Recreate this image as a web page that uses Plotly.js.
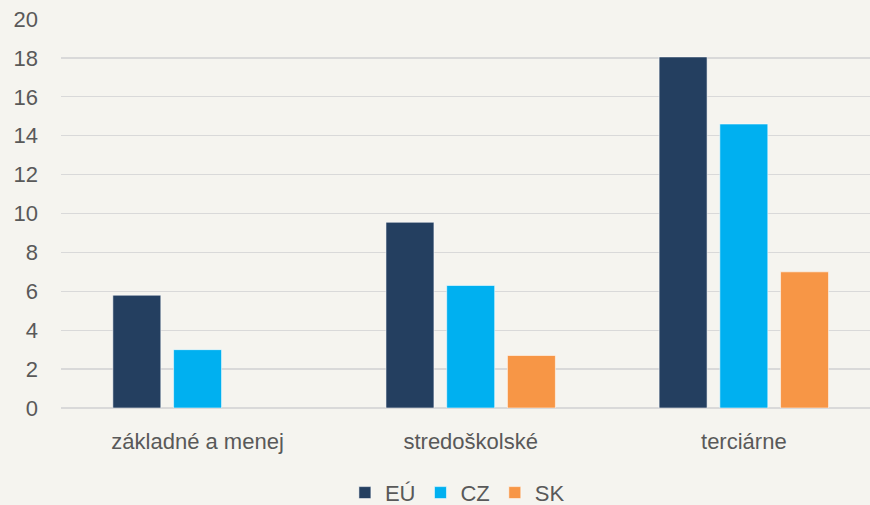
<!DOCTYPE html>
<html>
<head>
<meta charset="utf-8">
<script src="https://cdn.plot.ly/plotly-3.0.1.min.js"></script>
<style>html,body{margin:0;padding:0;background:#F5F4EF;}</style>
</head>
<body>
<div id="chart" style="width:870px;height:505px;"></div>
<script>
const categories = ["základné a menej", "stredoškolské", "terciárne"];
const seriesNames = ["EÚ", "CZ", "SK"];
const valuesEU = [5.8, 9.55, 18.05];
const valuesCZ = [3.0, 6.3, 14.6];
const valuesSK = [null, 2.7, 7.0];
const colors = ["#243F60", "#00B0F0", "#F79646"];
const yTicks = [0, 2, 4, 6, 8, 10, 12, 14, 16, 18, 20];

const FONT = '"Liberation Sans", Arial, sans-serif';
const FS = 22;
const allValues = [valuesEU, valuesCZ, valuesSK];
const traces = allValues.map((vals, i) => ({
  type: 'bar',
  name: seriesNames[i],
  x: categories,
  y: vals,
  marker: {color: colors[i], line: {color: 'rgba(255,255,255,0.55)', width: 1}},
  hoverinfo: 'x+y+name'
}));

const layout = {
  width: 870,
  height: 505,
  paper_bgcolor: '#F5F4EF',
  plot_bgcolor: '#F5F4EF',
  margin: {l: 61, r: 0, t: 19, b: 97, pad: 0, autoexpand: false},
  barmode: 'group',
  bargap: 0.333,
  bargroupgap: 0.21,
  font: {family: FONT, size: FS, color: '#595959'},
  showlegend: true,
  legend: {
    orientation: 'h',
    x: 0.49, xanchor: 'center',
    y: -0.218, yanchor: 'middle',
    font: {family: FONT, size: FS, color: '#595959'},
    itemwidth: 30,
    traceorder: 'normal',
    bgcolor: 'rgba(0,0,0,0)'
  },
  xaxis: {
    type: 'category',
    range: [-0.5, 2.462],
    showgrid: false,
    zeroline: false,
    showline: false,
    ticks: '',
    ticklabelstandoff: 18,
    tickfont: {family: FONT, size: FS, color: '#595959'},
    fixedrange: true
  },
  yaxis: {
    range: [0, 20],
    tickvals: yTicks,
    ticktext: yTicks.map(String),
    showgrid: true,
    gridcolor: '#D9D9D9',
    gridwidth: 1.3,
    zeroline: true,
    zerolinecolor: '#D9D9D9',
    zerolinewidth: 1.3,
    showline: false,
    ticks: '',
    ticklabelstandoff: 22,
    tickfont: {family: FONT, size: FS, color: '#595959'},
    fixedrange: true
  }
};

Plotly.newPlot('chart', traces, layout, {displayModeBar: false, staticPlot: true});
</script>
</body>
</html>
